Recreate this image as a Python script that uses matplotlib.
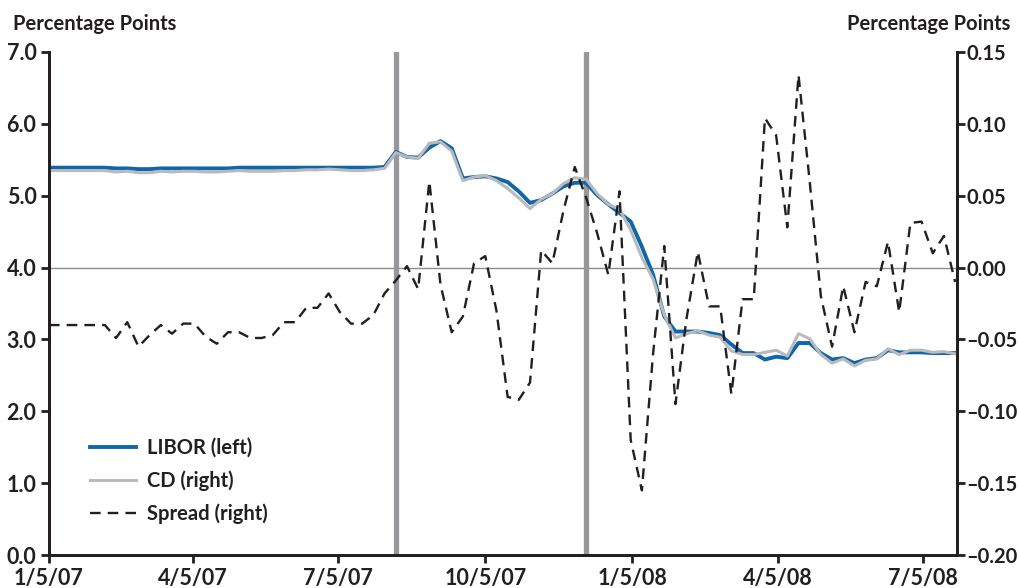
import datetime as dt
import matplotlib
matplotlib.use('Agg')
import matplotlib.pyplot as plt
import matplotlib.dates as mdates
from matplotlib.ticker import FuncFormatter
from matplotlib.lines import Line2D

plt.rcParams['font.family'] = ['Lato', 'DejaVu Sans']
plt.rcParams['font.weight'] = 'bold'

# weekly observations, Fridays from 1/5/07
first_week = dt.date(2007, 1, 5)
libor = [5.39, 5.39, 5.39, 5.39, 5.39, 5.39, 5.38, 5.38, 5.37, 5.37,
         5.38, 5.38, 5.38, 5.38, 5.38, 5.38, 5.38, 5.39, 5.39, 5.39,
         5.39, 5.39, 5.39, 5.39, 5.39, 5.39, 5.39, 5.39, 5.39, 5.39,
         5.40, 5.61, 5.54, 5.53, 5.67, 5.76, 5.66, 5.24, 5.26, 5.27,
         5.24, 5.19, 5.06, 4.90, 4.94, 5.03, 5.13, 5.18, 5.18, 5.01,
         4.88, 4.76, 4.64, 4.29, 3.90, 3.32, 3.11, 3.11, 3.11, 3.09,
         3.06, 2.93, 2.81, 2.81, 2.72, 2.76, 2.74, 2.95, 2.95, 2.81,
         2.72, 2.74, 2.67, 2.72, 2.74, 2.85, 2.82, 2.82, 2.82, 2.81,
         2.81, 2.81]
cd = [5.35, 5.35, 5.35, 5.35, 5.35, 5.35, 5.33, 5.34, 5.32, 5.32,
      5.34, 5.33, 5.34, 5.34, 5.33, 5.33, 5.34, 5.35, 5.34, 5.34,
      5.34, 5.35, 5.35, 5.36, 5.36, 5.37, 5.36, 5.35, 5.35, 5.36,
      5.38, 5.60, 5.54, 5.52, 5.73, 5.75, 5.62, 5.21, 5.26, 5.28,
      5.21, 5.10, 4.97, 4.82, 4.95, 5.03, 5.17, 5.25, 5.23, 5.03,
      4.88, 4.81, 4.52, 4.14, 3.84, 3.34, 3.02, 3.08, 3.12, 3.06,
      3.03, 2.84, 2.79, 2.79, 2.82, 2.85, 2.77, 3.08, 3.01, 2.79,
      2.67, 2.73, 2.63, 2.71, 2.73, 2.87, 2.79, 2.85, 2.85, 2.82,
      2.83, 2.80]
spread = [-0.040, -0.040, -0.040, -0.040, -0.040, -0.040, -0.049, -0.038, -0.055, -0.047,
          -0.040, -0.046, -0.039, -0.039, -0.048, -0.053, -0.045, -0.045, -0.049, -0.049,
          -0.047, -0.038, -0.038, -0.028, -0.028, -0.018, -0.031, -0.039, -0.039, -0.033,
          -0.018, -0.009, 0.001, -0.015, 0.060, -0.012, -0.045, -0.034, 0.003, 0.008,
          -0.030, -0.090, -0.092, -0.080, 0.012, 0.003, 0.040, 0.070, 0.049, 0.024,
          -0.005, 0.053, -0.120, -0.155, -0.060, 0.015, -0.095, -0.035, 0.011, -0.027,
          -0.027, -0.088, -0.022, -0.022, 0.104, 0.092, 0.028, 0.134, 0.060, -0.020,
          -0.055, -0.013, -0.045, -0.010, -0.013, 0.018, -0.031, 0.031, 0.032, 0.010,
          0.022, -0.010]
dates = [first_week + dt.timedelta(weeks=i) for i in range(len(libor))]

event_dates = [dt.date(2007, 8, 10), dt.date(2007, 12, 7)]
tick_dates = [dt.date(2007, 1, 5), dt.date(2007, 4, 5), dt.date(2007, 7, 5),
              dt.date(2007, 10, 5), dt.date(2008, 1, 5), dt.date(2008, 4, 5),
              dt.date(2008, 7, 5)]
tick_labels = ['1/5/07', '4/5/07', '7/5/07', '10/5/07', '1/5/08', '4/5/08', '7/5/08']

ink = '#231f20'
blue = '#0f66a8'
light = '#b9babd'
dash = (4.5, 3.0)

fig = plt.figure(figsize=(10.18, 5.88), dpi=100)
ax = fig.add_axes([0.0481, 0.0561, 0.8917, 0.8555])
ax2 = ax.twinx()

ax.axhline(4.0, color='#8c8c8c', lw=1.0, zorder=1)
for d in event_dates:
    ax.axvline(d, color='#97989c', lw=3.8, zorder=1)

ax.plot(dates, cd, color=light, lw=2.2, zorder=3, solid_joinstyle='round')
ax.plot(dates, libor, color=blue, lw=2.8, zorder=2, solid_joinstyle='round')
ax2.plot(dates, spread, color=ink, lw=1.7, dashes=dash)

ax.set_xlim(dt.date(2007, 1, 5), dt.date(2008, 7, 26))
ax.set_ylim(0, 7)
ax2.set_ylim(-0.20, 0.15)

ax.set_yticks(range(0, 8))
ax.yaxis.set_major_formatter(FuncFormatter(lambda v, p: '%.1f' % v))
ax2.set_yticks([-0.20, -0.15, -0.10, -0.05, 0.0, 0.05, 0.10, 0.15])
ax2.yaxis.set_major_formatter(
    FuncFormatter(lambda v, p: ('%.2f' % v).replace('-', '\u2013')))
ax.set_xticks([mdates.date2num(d) for d in tick_dates])
ax.set_xticklabels(tick_labels)

for a in (ax, ax2):
    a.spines['top'].set_visible(False)
    for s in a.spines.values():
        s.set_linewidth(2.0)
        s.set_color(ink)
    a.tick_params(colors=ink, width=2.0, length=6, labelsize=15.5, pad=3)
ax2.tick_params(axis='y', labelsize=14.5, pad=1)

fig.text(0.013, 0.960, 'Percentage Points', fontsize=14.5, color=ink,
         ha='left', va='center')
fig.text(0.993, 0.960, 'Percentage Points', fontsize=14.5, color=ink,
         ha='right', va='center')

handles = [Line2D([], [], color=blue, lw=2.8),
           Line2D([], [], color=light, lw=2.2),
           Line2D([], [], color=ink, lw=1.7, dashes=dash)]
ax2.legend(handles, ['LIBOR (left)', 'CD (right)', 'Spread (right)'],
           loc='upper left', bbox_to_anchor=(0.088, 0.255),
           bbox_transform=fig.transFigure, frameon=False, fontsize=14.5,
           handlelength=2.3, handletextpad=0.55, labelspacing=0.62,
           borderpad=0, borderaxespad=0, labelcolor=ink)

fig.savefig('out.png', dpi=100)
